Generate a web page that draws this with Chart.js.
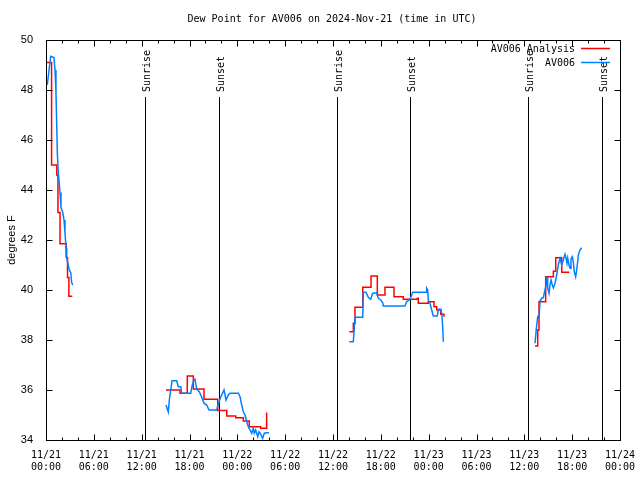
<!DOCTYPE html>
<html><head><meta charset="utf-8">
<script src="https://cdn.jsdelivr.net/npm/chart.js@4.4.1/dist/chart.umd.min.js"></script>
<style>html,body{margin:0;padding:0;background:#fff;}canvas{display:block;}</style>
</head><body>
<canvas id="c" width="640" height="480"></canvas>
<script>
const chartTitle = 'Dew Point for AV006 on 2024-Nov-21 (time in UTC)';
const yAxisTitle = 'degrees F';
const seriesNames = ['AV006 Analysis', 'AV006'];
const xTickHours = [0, 6, 12, 18, 24, 30, 36, 42, 48, 54, 60, 66, 72];
const xTickLabels = [
  ['11/21', '00:00'], ['11/21', '06:00'], ['11/21', '12:00'], ['11/21', '18:00'],
  ['11/22', '00:00'], ['11/22', '06:00'], ['11/22', '12:00'], ['11/22', '18:00'],
  ['11/23', '00:00'], ['11/23', '06:00'], ['11/23', '12:00'], ['11/23', '18:00'],
  ['11/24', '00:00']
];
const yTickValues = [34, 36, 38, 40, 42, 44, 46, 48, 50];
const eventHours = [12.47, 21.73, 36.48, 45.72, 60.5, 69.72];
const eventLabels = ['Sunrise', 'Sunset', 'Sunrise', 'Sunset', 'Sunrise', 'Sunset'];

// Analysis (red), hours since 11/21 00:00 UTC; null = gap
const analysisHours = [
  0.05, 0.7, 1.35, 1.5, 1.76, 2.53, 2.7, 2.87, 3.3, 3.3,
  15.05, 16.81, 17.72, 18.48, 19.82, 21.54, 22.67, 23.8, 24.75, 25.5, 26.93, 27.68, 27.68,
  38.05, 38.55, 38.76, 39.73, 40.77, 41.56, 42.52, 43.65, 44.82, 46.57, 46.7, 47.95, 48.67, 49.01, 49.51, 49.92, 49.92,
  61.34, 61.68, 61.84, 62.68, 63.64, 63.94, 64.69, 65.64
];
const analysisTemps = [
  49.1, 45.0, 44.6, 43.1, 41.85, 41.3, 40.5, 39.75, 39.75, null,
  36.0, 35.87, 36.56, 36.04, 35.63, 35.18, 34.96, 34.89, 34.76, 34.53, 34.47, 35.1, null,
  38.33, 38.67, 39.31, 40.11, 40.56, 39.8, 40.11, 39.73, 39.63, 39.67, 39.47, 39.53, 39.33, 39.2, 39.03, 38.93, null,
  37.76, 38.4, 39.53, 40.53, 40.75, 41.29, 40.71, 40.71
];

// Observations (blue)
const obsHours = [
  0.16, 0.31, 0.59, 1.0, 1.13, 1.25, 1.34, 1.42, 1.54, 1.76, 1.88, 2.1, 2.26, 2.38, 2.51, 2.6, 2.72, 2.92, 3.1, 3.22, 3.35, 3.35,
  15.05, 15.34, 15.47, 15.81, 16.39, 16.6, 16.9, 17.02, 18.15, 18.35, 18.56, 18.69, 18.9, 19.23, 19.53, 19.82, 20.16, 20.45,
  21.41, 21.61, 21.91, 22.33, 22.58, 22.87, 23.08, 24.12, 24.34, 24.55, 24.75, 24.96, 25.18, 25.38, 25.59, 25.8, 26.0,
  26.13, 26.3, 26.56, 26.72, 26.93, 27.18, 27.38, 27.68, 27.97, 27.97,
  38.05, 38.55, 38.76, 39.73, 39.8, 40.14, 40.43, 40.73, 40.98, 41.48, 41.68, 41.98, 42.24, 42.31, 45.03, 45.24, 45.66,
  46.0, 47.67, 47.75, 47.88, 47.95, 48.17, 48.38, 48.58, 49.08, 49.21, 49.51, 49.64, 49.76, 49.84, 49.84,
  61.34, 61.55, 61.68, 61.84, 61.97, 62.18, 62.38, 62.59, 62.72, 62.85, 62.93, 63.1, 63.22, 63.35, 63.51, 63.64, 63.85,
  64.06, 64.26, 64.48, 64.69, 64.89, 65.1, 65.22, 65.35, 65.44, 65.6, 65.73, 65.85, 66.02, 66.14, 66.27, 66.44, 66.57,
  66.69, 66.77, 66.98, 67.19
];
const obsTemps = [
  48.2, 48.6, 49.35, 49.3, 48.8, 47.9, 46.7, 45.5, 44.7, 43.9, 43.3, 43.1, 42.8, 42.3, 41.7, 41.3, 41.1, 40.8, 40.7, 40.3, 40.2, null,
  35.4, 35.12, 35.6, 36.37, 36.37, 36.13, 36.13, 35.87, 35.87, 36.2, 36.4, 36.43, 36.03, 35.93, 35.71, 35.47, 35.4, 35.2,
  35.2, 35.44, 35.71, 36.0, 35.6, 35.8, 35.87, 35.87, 35.73, 35.4, 35.13, 35.0, 34.73, 34.53, 34.4, 34.27, 34.47,
  34.27, 34.4, 34.13, 34.33, 34.23, 34.07, 34.27, 34.29, 34.29, null,
  37.93, 37.93, 38.91, 38.91, 39.91, 39.91, 39.71, 39.63, 39.87, 39.89, 39.67, 39.6, 39.49, 39.36, 39.36, 39.53, 39.63,
  39.91, 39.91, 40.07, 40.0, 39.6, 39.47, 39.2, 38.96, 38.96, 39.23, 39.23, 39.07, 38.53, 37.93, null,
  37.87, 38.6, 38.93, 38.89, 39.56, 39.67, 39.69, 40.0, 40.2, 40.53, 40.07, 39.87, 40.2, 40.4, 40.2, 40.09, 40.27,
  40.6, 41.0, 41.27, 41.0, 41.2, 41.43, 41.29, 41.07, 41.27, 41.0, 40.87, 41.24, 41.33, 41.13, 40.73, 40.53, 40.8,
  41.13, 41.4, 41.6, 41.69
];

const colors = ['#ff0000', '#0080ff'];
const MONO = '"DejaVu Sans Mono", "Liberation Mono", monospace';
const SANS = '"Liberation Sans", Arial, sans-serif';

function toPoints(hs, vs) { return hs.map((h, i) => ({ x: h, y: vs[i] })); }

const decor = {
  id: 'decor',
  beforeDatasetsDraw(chart) {
    const ctx = chart.ctx, a = chart.chartArea, xs = chart.scales.x;
    ctx.save();
    ctx.strokeStyle = '#000'; ctx.lineWidth = 1;
    ctx.font = '10px ' + MONO; ctx.fillStyle = '#000';
    eventHours.forEach((h, i) => {
      const px = Math.round(xs.getPixelForValue(h)) + 0.5;
      ctx.beginPath(); ctx.moveTo(px, 97); ctx.lineTo(px, a.bottom); ctx.stroke();
      ctx.save();
      ctx.translate(px + 4, 92);
      ctx.rotate(-Math.PI / 2);
      ctx.textAlign = 'left'; ctx.textBaseline = 'alphabetic';
      ctx.fillText(eventLabels[i], 0, 0);
      ctx.restore();
    });
    ctx.restore();
  },
  afterDatasetsDraw(chart) {
    const ctx = chart.ctx, a = chart.chartArea, xs = chart.scales.x, ys = chart.scales.y;
    ctx.save();
    ctx.strokeStyle = '#000'; ctx.lineWidth = 1;
    const L = Math.round(a.left) + 0.5, R = Math.round(a.right) + 0.5;
    const T = Math.round(a.top) + 0.5, B = Math.round(a.bottom) + 0.5;
    ctx.beginPath();
    for (let h = 0; h <= 72; h += 2) {
      const px = Math.round(xs.getPixelForValue(h)) + 0.5;
      const len = xTickHours.includes(h) ? 6 : 3;
      ctx.moveTo(px, B); ctx.lineTo(px, B - len);
      ctx.moveTo(px, T); ctx.lineTo(px, T + len);
    }
    yTickValues.forEach(v => {
      const py = Math.round(ys.getPixelForValue(v)) + 0.5;
      ctx.moveTo(L, py); ctx.lineTo(L + 6, py);
      ctx.moveTo(R, py); ctx.lineTo(R - 6, py);
    });
    ctx.stroke();
    ctx.strokeRect(L, T, R - L, B - T);
    ctx.restore();
  },
  afterDraw(chart) {
    const ctx = chart.ctx, a = chart.chartArea;
    ctx.save();
    ctx.fillStyle = '#000';
    ctx.font = '10px ' + MONO;
    ctx.textAlign = 'center'; ctx.textBaseline = 'middle';
    ctx.fillText(chartTitle, (a.left + a.right) / 2 - 1, 19);
    ctx.textAlign = 'right';
    const rows = [49, 63];
    seriesNames.forEach((n, i) => {
      ctx.fillStyle = '#000';
      ctx.fillText(n, 575, rows[i]);
      ctx.strokeStyle = colors[i]; ctx.lineWidth = 1.5;
      ctx.beginPath(); ctx.moveTo(581, rows[i] - 0.5); ctx.lineTo(610, rows[i] - 0.5); ctx.stroke();
    });
    ctx.font = '11px ' + SANS;
    ctx.fillStyle = '#000';
    ctx.translate(12, (a.top + a.bottom) / 2);
    ctx.rotate(-Math.PI / 2);
    ctx.textAlign = 'center'; ctx.textBaseline = 'middle';
    ctx.fillText(yAxisTitle, 0, 0);
    ctx.restore();
  }
};

new Chart(document.getElementById('c'), {
  type: 'line',
  data: {
    datasets: [
      { label: seriesNames[0], data: toPoints(analysisHours, analysisTemps), borderColor: colors[0],
        borderWidth: 1.5, pointRadius: 0, stepped: true, spanGaps: false, fill: false, order: 1 },
      { label: seriesNames[1], data: toPoints(obsHours, obsTemps), borderColor: colors[1],
        borderWidth: 1.5, pointRadius: 0, tension: 0, spanGaps: false, fill: false, order: 0 }
    ]
  },
  options: {
    responsive: false, animation: false, events: [],
    layout: { padding: { left: 0, right: 20, top: 40, bottom: 0 } },
    plugins: { legend: { display: false }, title: { display: false }, tooltip: { enabled: false } },
    scales: {
      x: {
        type: 'linear', min: 0, max: 72,
        afterBuildTicks: s => { s.ticks = xTickHours.map(v => ({ value: v })); },
        afterFit: s => { s.height = 40; },
        grid: { display: false }, border: { display: false },
        ticks: {
          autoSkip: false, maxRotation: 0, minRotation: 0, padding: 1, color: '#000',
          font: { family: MONO, size: 10, lineHeight: 1.2 },
          callback: v => { const i = xTickHours.indexOf(v); return i >= 0 ? xTickLabels[i] : ''; }
        }
      },
      y: {
        min: 34, max: 50,
        afterBuildTicks: s => { s.ticks = yTickValues.map(v => ({ value: v })); },
        afterFit: s => { s.width = 46; },
        grid: { display: false }, border: { display: false },
        ticks: { padding: 5, color: '#000', font: { family: SANS, size: 11 } }
      }
    }
  },
  plugins: [decor]
});
</script>
</body></html>
